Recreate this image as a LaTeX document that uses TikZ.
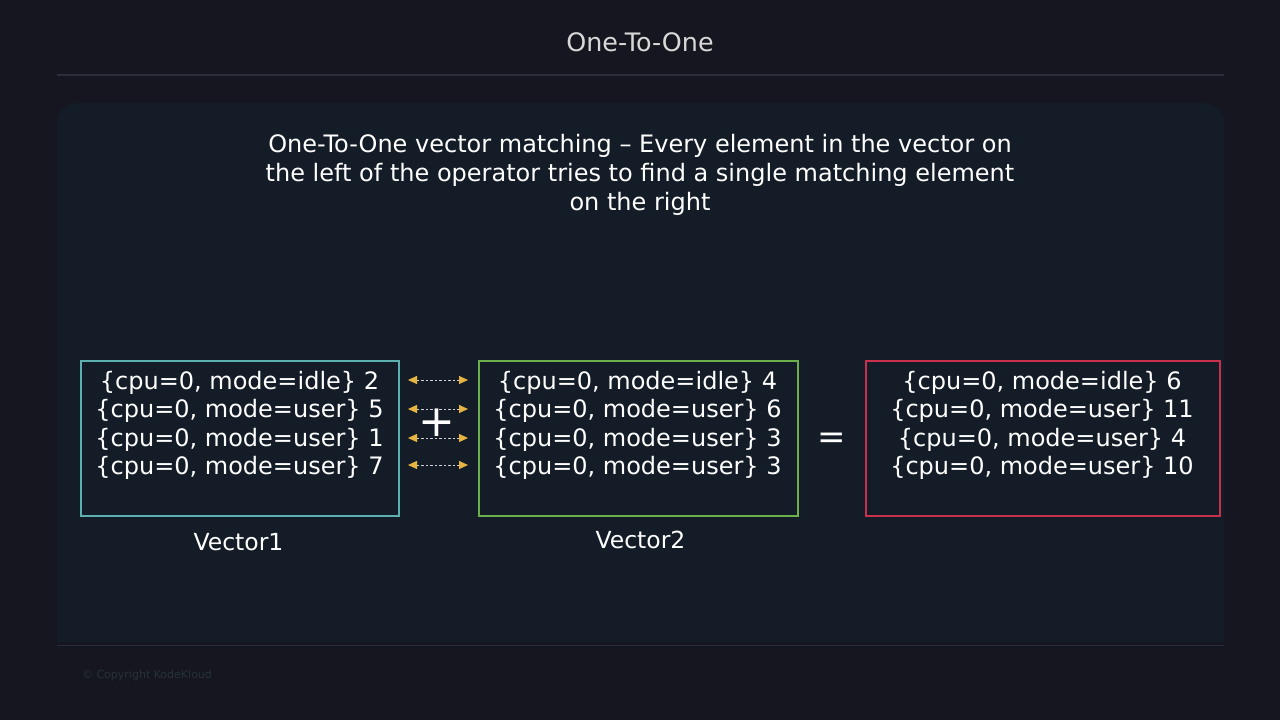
\documentclass[tikz,border=0pt]{standalone}
\usepackage{fontspec}
\setmainfont{DejaVu Sans}
\usetikzlibrary{arrows.meta}
\definecolor{bgc}{HTML}{15161F}
\definecolor{panelc}{HTML}{131C27}
\definecolor{rulec}{HTML}{2C2D3A}
\definecolor{titlec}{HTML}{D8D8D8}
\definecolor{tealc}{HTML}{5BB0B0}
\definecolor{greenc}{HTML}{6CB04E}
\definecolor{crimc}{HTML}{C8304E}
\definecolor{arrowc}{HTML}{E8B640}
\definecolor{dashc}{HTML}{D0D0D0}
\definecolor{copyc}{HTML}{26323A}
\tikzset{
  vbox/.style={line width=1.6pt, minimum width=318pt, minimum height=155pt, anchor=north west, inner sep=0pt},
  vtext/.style={text=white, align=center, font=\fontsize{24}{28.5}\selectfont, inner sep=0pt},
  vlabel/.style={text=white, font=\fontsize{23.5}{26}\selectfont, inner sep=0pt},
  match/.style={dashc, line width=0.9pt, dash pattern=on 2.5pt off 2pt,
    {Triangle[color=arrowc, length=9pt, width=8pt]}-{Triangle[color=arrowc, length=9pt, width=8pt]}}
}
\begin{document}
\begin{tikzpicture}[x=1pt,y=-1pt]
\fill[bgc] (0,0) rectangle (1280,720);
\useasboundingbox (0,0) rectangle (1280,720);
% panel
\fill[panelc, rounded corners=20pt] (57,103) rectangle (1224,642);
\fill[panelc] (57,600) rectangle (1224,642);
% rules
\draw[rulec, line width=1.5pt] (57,75) -- (1224,75);
\draw[rulec, line width=1.5pt] (57,645.5) -- (1224,645.5);
% title
\node[text=titlec, font=\fontsize{25.4}{28}\selectfont] (title) at (640,42) {One-To-One};
% description
\node[text=white, align=center, font=\fontsize{24}{29}\selectfont] (desc) at (640,174.5)
 {One-To-One vector matching -- Every element in the vector on\\the left of the operator tries to find a single matching element\\on the right};
% boxes
\node[vbox, draw=tealc] (v1) at (80,360) {};
\node[vbox, draw=greenc, minimum width=319pt] (v2) at (478,360) {};
\node[vbox, draw=crimc, minimum width=354pt] (v3) at (865,360) {};
% contents
\node[vtext] (t1) at (239.5,425.5) {\{cpu=0, mode=idle\} 2\\\{cpu=0, mode=user\} 5\\\{cpu=0, mode=user\} 1\\\{cpu=0, mode=user\} 7};
\node[vtext] (t2) at (637.5,425.5) {\{cpu=0, mode=idle\} 4\\\{cpu=0, mode=user\} 6\\\{cpu=0, mode=user\} 3\\\{cpu=0, mode=user\} 3};
\node[vtext] (t3) at (1042,425.5) {\{cpu=0, mode=idle\} 6\\\{cpu=0, mode=user\} 11\\\{cpu=0, mode=user\} 4\\\{cpu=0, mode=user\} 10};
% matching arrows
\foreach \i/\yy in {1/380,2/409,3/438,4/465}{
  \coordinate (a\i) at (408,\yy);
  \coordinate (b\i) at (468,\yy);
  \draw[match] (a\i) -- (b\i);
}
% operators
\node[text=white, font=\fontsize{44}{44}\selectfont, inner sep=0pt] (plus) at (437,423) {+};
\node[text=white, font=\fontsize{34}{34}\selectfont, inner sep=0pt] (eq) at (832,441) {=};
% labels
\node[vlabel] (l1) at (238.5,542) {Vector1};
\node[vlabel] (l2) at (640.5,540) {Vector2};
% copyright
\node[text=copyc, font=\fontsize{11}{13}\selectfont, inner sep=0pt] (copy) at (147,675) {© Copyright KodeKloud};
\end{tikzpicture}
\end{document}
